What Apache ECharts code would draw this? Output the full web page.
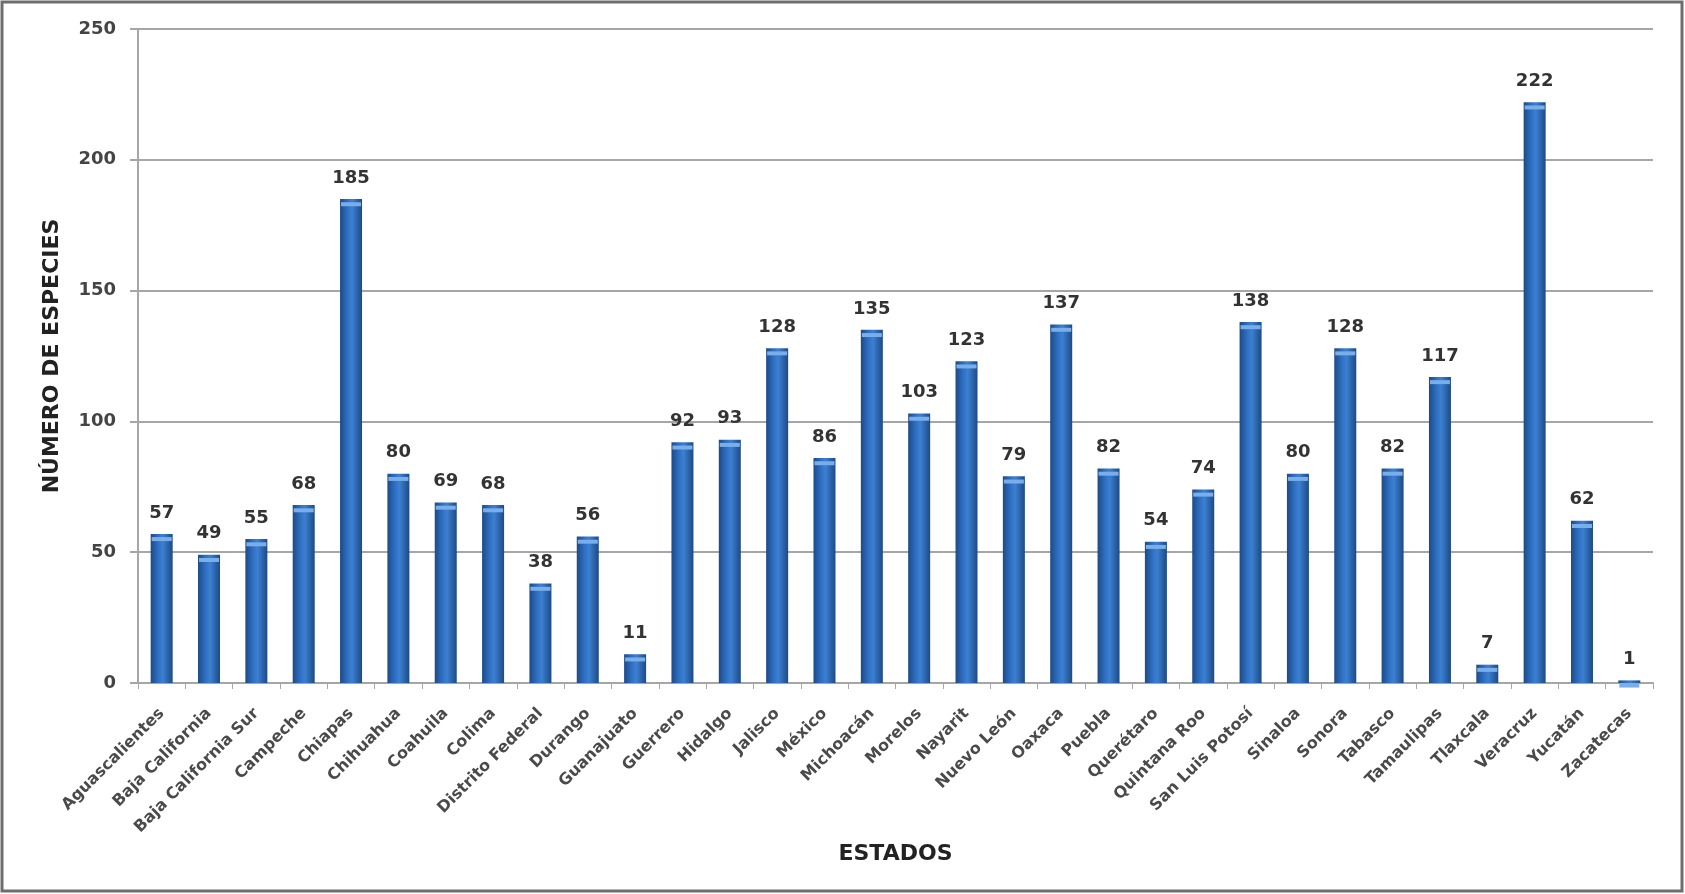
<!DOCTYPE html>
<html>
<head>
<meta charset="utf-8">
<script src="https://cdn.jsdelivr.net/npm/echarts@6/dist/echarts.min.js"></script>
<style>
html,body{margin:0;padding:0;background:#fff;}
#chart{width:1685px;height:894px;}
</style>
</head>
<body>
<div id="chart"></div>
<script>
const categories = ["Aguascalientes","Baja California","Baja California Sur","Campeche","Chiapas","Chihuahua","Coahuila","Colima","Distrito Federal","Durango","Guanajuato","Guerrero","Hidalgo","Jalisco","México","Michoacán","Morelos","Nayarit","Nuevo León","Oaxaca","Puebla","Querétaro","Quintana Roo","San Luis Potosí","Sinaloa","Sonora","Tabasco","Tamaulipas","Tlaxcala","Veracruz","Yucatán","Zacatecas"];
const species = [57,49,55,68,185,80,69,68,38,56,11,92,93,128,86,135,103,123,79,137,82,54,74,138,80,128,82,117,7,222,62,1];
const yTicks = {min:0, max:250, interval:50};
const xTitle = "ESTADOS";
const yTitle = "NÚMERO DE ESPECIES";

const chart = echarts.init(document.getElementById('chart'));
const font = '"DejaVu Sans", "Open Sans", sans-serif';
const barGrad = new echarts.graphic.LinearGradient(0,0,1,0,[
  {offset:0, color:'#1d4a86'},
  {offset:0.35, color:'#2f70c4'},
  {offset:0.55, color:'#3c80d2'},
  {offset:1, color:'#1d4a86'}
]);
chart.setOption({
  animation:false,
  backgroundColor:'#fff',
  graphic:[{type:'rect', shape:{x:2,y:2,width:1680,height:889}, style:{fill:'none', stroke:'#6e6e6e', lineWidth:3}, z:100}],
  grid:{left:138, right:32, top:29, bottom:211},
  xAxis:{
    type:'category', data:categories,
    name:xTitle, nameLocation:'middle', nameGap:160,
    nameTextStyle:{fontFamily:font, fontSize:22, fontWeight:'bold', color:'#222'},
    axisLine:{lineStyle:{color:'#a6a6a6', width:2}},
    axisTick:{show:true, alignWithLabel:false, length:6, lineStyle:{color:'#a6a6a6', width:1}},
    axisLabel:{rotate:45, interval:0, margin:28, fontFamily:font, fontSize:16, fontWeight:'bold', color:'#4a4a4a'}
  },
  yAxis:{
    type:'value', min:yTicks.min, max:yTicks.max, interval:yTicks.interval,
    name:yTitle, nameLocation:'middle', nameGap:75, nameRotate:90,
    nameTextStyle:{fontFamily:font, fontSize:22, fontWeight:'bold', color:'#222'},
    axisLine:{show:true, lineStyle:{color:'#a6a6a6', width:2}},
    axisTick:{show:true, length:8, lineStyle:{color:'#a6a6a6', width:2}},
    axisLabel:{margin:22, fontFamily:font, fontSize:18, fontWeight:'bold', color:'#444'},
    splitLine:{lineStyle:{color:'#a6a6a6', width:2}}
  },
  series:[{
    type:'bar', data:species, barWidth:22,
    itemStyle:{color:barGrad},
    label:{show:true, position:'top', distance:12, fontFamily:font, fontSize:18, fontWeight:'bold', color:'#333'},
    z:2
  },{
    type:'pictorialBar', data:species, symbol:'rect', symbolSize:[20,4], symbolPosition:'end', symbolOffset:[0,'80%'],
    itemStyle:{color:'#79aee8'}, z:3, silent:true
  }]
});
</script>
</body>
</html>
